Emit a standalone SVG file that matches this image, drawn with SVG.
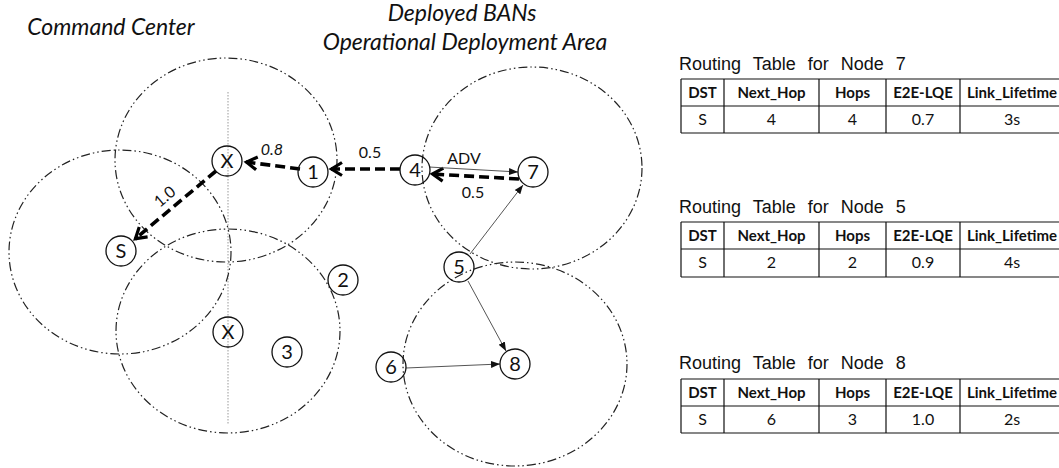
<svg xmlns="http://www.w3.org/2000/svg" width="1059" height="468" viewBox="0 0 1059 468">
<style>
.rng{fill:none;stroke:#222;stroke-width:1.2;stroke-dasharray:9 3 1.5 3 1.5 3}
.nd{fill:none;stroke:#111;stroke-width:1.3}
.nt{font-family:Lato,"Liberation Sans",sans-serif;font-size:20px;fill:#111;text-anchor:middle}
.thick{fill:none;stroke:#000;stroke-width:3.6;stroke-dasharray:10 5}
.thin{fill:none;stroke:#555;stroke-width:1}
.el{font-family:Lato,"Liberation Sans",sans-serif;font-size:16px;fill:#111;text-anchor:middle}
.hd{font-family:"Liberation Sans",Arial,sans-serif;font-size:18px;fill:#111;word-spacing:7px}
.ttl{font-family:Lato,"Liberation Sans",sans-serif;font-style:italic;font-size:23px;fill:#111;text-anchor:middle}
.tb{fill:none;stroke:#111;stroke-width:1.2}
.th{font-family:Lato,"Liberation Sans",sans-serif;font-weight:bold;font-size:15px;fill:#111;text-anchor:middle}
.td{font-family:Lato,"Liberation Sans",sans-serif;font-size:16px;fill:#111;text-anchor:middle}
</style>
<defs>
<marker id="bigArrow" markerUnits="userSpaceOnUse" viewBox="-14 -9 18 18" refX="0" refY="0" markerWidth="18" markerHeight="18" orient="auto">
<path d="M-11,-6.5 L-0.5,0 L-11,6.5" fill="none" stroke="#000" stroke-width="3.2" stroke-linejoin="miter"/>
</marker>
<marker id="smallArrow" markerUnits="userSpaceOnUse" viewBox="0 -5 10 10" refX="9" refY="0" markerWidth="10" markerHeight="10" orient="auto">
<path d="M0,-3.5 L9,0 L0,3.5 Z" fill="#111"/>
</marker>
</defs>
<rect width="1059" height="468" fill="#fff"/>

<g id="titles">
<text class="ttl" x="111" y="35">Command Center</text>
<text class="ttl" x="462" y="21">Deployed BANs</text>
<text class="ttl" x="465" y="50">Operational Deployment Area</text>
</g>

<g id="ranges">
<line x1="228" y1="92" x2="228" y2="425" stroke="#999" stroke-width="1" stroke-dasharray="1.5 1.5"/>
<ellipse class="rng" cx="226" cy="160" rx="111" ry="102"/>
<ellipse class="rng" cx="120" cy="252" rx="111" ry="102"/>
<ellipse class="rng" cx="228" cy="331" rx="112" ry="102"/>
<ellipse class="rng" cx="532" cy="168" rx="110" ry="101"/>
<ellipse class="rng" cx="515" cy="364" rx="112" ry="102"/>
</g>

<g id="connectors">
<line class="thick" x1="300" y1="169" x2="246" y2="162" marker-end="url(#bigArrow)"/>
<line class="thick" x1="400" y1="169" x2="331" y2="169" marker-end="url(#bigArrow)"/>
<line class="thick" x1="216" y1="171" x2="135" y2="239" marker-end="url(#bigArrow)"/>
<line class="thick" x1="519" y1="179" x2="432" y2="174" marker-end="url(#bigArrow)"/>
<line class="thin" x1="429" y1="167" x2="518" y2="172" marker-end="url(#smallArrow)"/>
<line class="thin" x1="470" y1="254" x2="523" y2="185" marker-end="url(#smallArrow)"/>
<line class="thin" x1="468" y1="281" x2="506" y2="351" marker-end="url(#smallArrow)"/>
<line class="thin" x1="406" y1="368" x2="500" y2="364" marker-end="url(#smallArrow)"/>
<text class="el" x="272" y="155" font-style="italic">0.8</text>
<text class="el" x="370" y="158">0.5</text>
<text class="el" x="0" y="5" transform="translate(165,197) rotate(-40)">1.0</text>
<text class="el" x="464" y="164">ADV</text>
<text class="el" x="473" y="198">0.5</text>
</g>

<g id="node-X1"><circle class="nd" cx="227" cy="161" r="15"/><text class="nt" x="227" y="168">X</text></g>
<g id="node-1"><circle class="nd" cx="313" cy="172" r="15"/><text class="nt" x="313" y="179">1</text></g>
<g id="node-4"><circle class="nd" cx="415" cy="170" r="15"/><text class="nt" x="415" y="177">4</text></g>
<g id="node-7"><circle class="nd" cx="533" cy="172" r="15"/><text class="nt" x="533" y="179">7</text></g>
<g id="node-S"><circle class="nd" cx="121" cy="251" r="15"/><text class="nt" x="121" y="258">S</text></g>
<g id="node-2"><circle class="nd" cx="343" cy="280" r="15"/><text class="nt" x="343" y="287">2</text></g>
<g id="node-X2"><circle class="nd" cx="228" cy="332" r="15"/><text class="nt" x="228" y="339">X</text></g>
<g id="node-3"><circle class="nd" cx="287" cy="352" r="15"/><text class="nt" x="287" y="359">3</text></g>
<g id="node-5"><circle class="nd" cx="459" cy="267" r="15"/><text class="nt" x="459" y="274">5</text></g>
<g id="node-6"><circle class="nd" cx="391" cy="367" r="15"/><text class="nt" x="391" y="374">6</text></g>
<g id="node-8"><circle class="nd" cx="515" cy="364" r="15"/><text class="nt" x="515" y="371">8</text></g>

<g id="table-7">
<text class="hd" x="679" y="70">Routing Table for Node 7</text>
<path class="tb" d="M681,79 H1064 M681,106 H1064 M681,133 H1064 M681,79 V133 M724,79 V133 M819,79 V133 M886,79 V133 M960,79 V133"/>
<text class="th" x="702.5" y="98">DST</text><text class="th" x="771.5" y="98">Next_Hop</text><text class="th" x="852.5" y="98">Hops</text><text class="th" x="923" y="98">E2E-LQE</text><text class="th" x="1012" y="98">Link_Lifetime</text>
<text class="td" x="702.5" y="125">S</text><text class="td" x="771.5" y="125">4</text><text class="td" x="852.5" y="125">4</text><text class="td" x="923" y="125">0.7</text><text class="td" x="1012" y="125">3s</text>
</g>

<g id="table-5">
<text class="hd" x="679" y="213">Routing Table for Node 5</text>
<path class="tb" d="M681,222 H1064 M681,249 H1064 M681,277 H1064 M681,222 V277 M724,222 V277 M819,222 V277 M886,222 V277 M960,222 V277"/>
<text class="th" x="702.5" y="241">DST</text><text class="th" x="771.5" y="241">Next_Hop</text><text class="th" x="852.5" y="241">Hops</text><text class="th" x="923" y="241">E2E-LQE</text><text class="th" x="1012" y="241">Link_Lifetime</text>
<text class="td" x="702.5" y="268">S</text><text class="td" x="771.5" y="268">2</text><text class="td" x="852.5" y="268">2</text><text class="td" x="923" y="268">0.9</text><text class="td" x="1012" y="268">4s</text>
</g>

<g id="table-8">
<text class="hd" x="679" y="369">Routing Table for Node 8</text>
<path class="tb" d="M681,379 H1064 M681,406 H1064 M681,433 H1064 M681,379 V433 M724,379 V433 M819,379 V433 M886,379 V433 M960,379 V433"/>
<text class="th" x="702.5" y="398">DST</text><text class="th" x="771.5" y="398">Next_Hop</text><text class="th" x="852.5" y="398">Hops</text><text class="th" x="923" y="398">E2E-LQE</text><text class="th" x="1012" y="398">Link_Lifetime</text>
<text class="td" x="702.5" y="425">S</text><text class="td" x="771.5" y="425">6</text><text class="td" x="852.5" y="425">3</text><text class="td" x="923" y="425">1.0</text><text class="td" x="1012" y="425">2s</text>
</g>
</svg>
